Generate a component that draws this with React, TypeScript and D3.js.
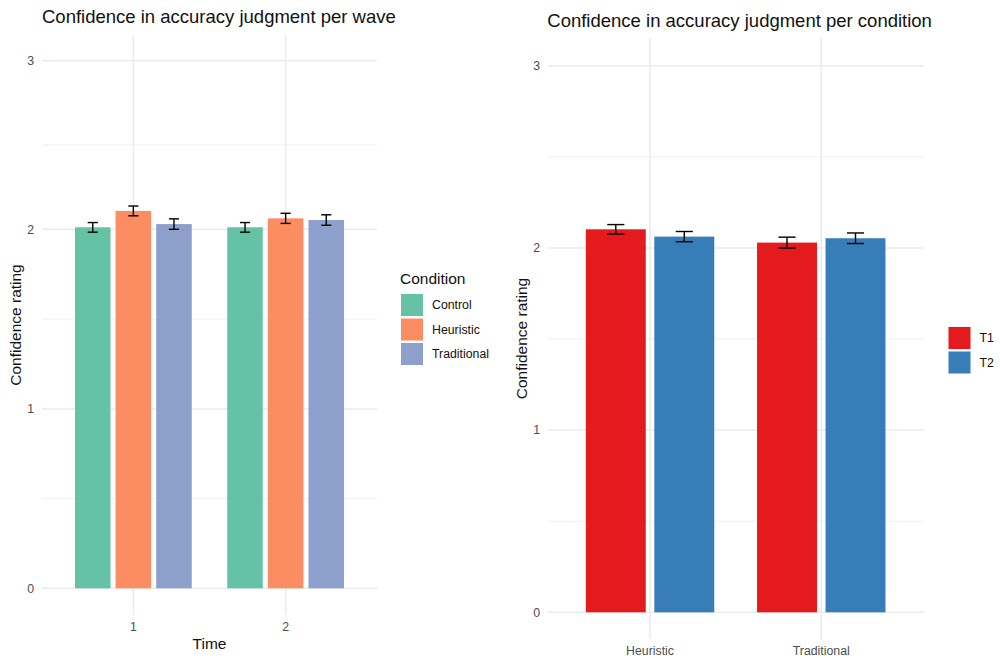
import React from "react";
import * as d3 from "d3";

// ---- Data: left chart (per wave) ----
const times = ["1", "2"];
const conditions = ["Control", "Heuristic", "Traditional"];
const controlMeans = [2.012, 2.012];
const heuristicMeans = [2.109, 2.065];
const traditionalMeans = [2.031, 2.055];
const controlErr = [0.028, 0.028];
const heuristicErr = [0.029, 0.03];
const traditionalErr = [0.031, 0.031];
const conditionColors = ["#66C2A5", "#FC8D62", "#8DA0CB"];

// ---- Data: right chart (per condition) ----
const condCategories = ["Heuristic", "Traditional"];
const waves = ["T1", "T2"];
const t1Means = [2.102, 2.029];
const t2Means = [2.062, 2.053];
const t1Err = [0.026, 0.03];
const t2Err = [0.028, 0.029];
const waveColors = ["#E41A1C", "#377EB8"];

const yTicks = [0, 1, 2, 3];
const yMinor = [0.5, 1.5, 2.5];

const FONT = "'Liberation Sans', Arial, Helvetica, sans-serif";
const GRID = "#ebebeb";
const TICK = "#4d4d4d";

type PanelProps = {
  left: number;
  right: number;
  top: number;
  bottom: number;
  y: (v: number) => number;
  cats: string[];
  groups: string[];
  means: number[][];
  errs: number[][];
  colors: string[];
  title: string;
  titleY: number;
  xTitle?: string;
  tickLabelY: number;
  yTitleX: number;
  legendTitle?: string;
  legendX: number;
  legendY: number;
  yLabelX: number;
};

function Panel(p: PanelProps) {
  const x = d3.scaleLinear().domain([0.4, p.cats.length + 0.6]).range([p.left, p.right]);
  const n = p.groups.length;
  const dodge = 0.8;
  const barW = 0.7 / n;
  const errW = 0.2 / n;
  const y0 = p.y(0);
  const keyW = 22;
  const keyH = 22;
  const step = 24.5;
  return (
    <g>
      {yMinor.map((v) => (
        <line key={"mn" + v} x1={p.left} x2={p.right} y1={p.y(v)} y2={p.y(v)} stroke={GRID} strokeWidth={0.8} />
      ))}
      {yTicks.map((v) => (
        <line key={"mj" + v} x1={p.left} x2={p.right} y1={p.y(v)} y2={p.y(v)} stroke={GRID} strokeWidth={1.5} />
      ))}
      {p.cats.map((c, i) => (
        <line key={"vx" + c} x1={x(i + 1)} x2={x(i + 1)} y1={p.top} y2={p.bottom} stroke={GRID} strokeWidth={1.5} />
      ))}
      {p.cats.map((c, i) =>
        p.groups.map((g, j) => {
          const cx = i + 1 + (j - (n - 1) / 2) * (dodge / n);
          const v = p.means[j][i];
          const x1 = x(cx - barW / 2);
          const x2 = x(cx + barW / 2);
          return (
            <rect key={c + g} x={x1} width={x2 - x1} y={p.y(v)} height={y0 - p.y(v)} fill={p.colors[j]} />
          );
        })
      )}
      {p.cats.map((c, i) =>
        p.groups.map((g, j) => {
          const cx = i + 1 + (j - (n - 1) / 2) * (dodge / n);
          const v = p.means[j][i];
          const e = p.errs[j][i];
          const xa = x(cx - errW / 2);
          const xb = x(cx + errW / 2);
          const xm = x(cx);
          const ya = p.y(v + e);
          const yb = p.y(v - e);
          return (
            <g key={"e" + c + g} stroke="#000" strokeWidth={1.4} fill="none">
              <line x1={xa} x2={xb} y1={ya} y2={ya} />
              <line x1={xa} x2={xb} y1={yb} y2={yb} />
              <line x1={xm} x2={xm} y1={ya} y2={yb} />
            </g>
          );
        })
      )}
      {yTicks.map((v) => (
        <text key={"yl" + v} x={p.yLabelX} y={p.y(v)} dy="0.35em" textAnchor="end" fontSize={12.3} fill={TICK} fontFamily={FONT}>
          {v}
        </text>
      ))}
      {p.cats.map((c, i) => (
        <text key={"xl" + c} x={x(i + 1)} y={p.tickLabelY} dy="0.35em" textAnchor="middle" fontSize={12.3} fill={TICK} fontFamily={FONT}>
          {c}
        </text>
      ))}
      <text x={p.left} y={p.titleY} fontSize={18.5} fill="#111" fontFamily={FONT}>
        {p.title}
      </text>
      {p.xTitle && (
        <text x={(p.left + p.right) / 2} y={644} dy="0.35em" textAnchor="middle" fontSize={15.5} fill="#111" fontFamily={FONT}>
          {p.xTitle}
        </text>
      )}
      <text
        transform={`translate(${p.yTitleX},${(p.top + p.bottom) / 2}) rotate(-90)`}
        textAnchor="middle"
        dy="0.35em"
        fontSize={15.5}
        fill="#111"
        fontFamily={FONT}
      >
        Confidence rating
      </text>
      {p.legendTitle && (
        <text x={p.legendX} y={p.legendY - 15} dy="0.35em" fontSize={15.5} fill="#111" fontFamily={FONT}>
          {p.legendTitle}
        </text>
      )}
      {p.groups.map((g, j) => (
        <g key={"lg" + g}>
          <rect x={p.legendX + 1} y={p.legendY + j * step} width={keyW} height={keyH} fill={p.colors[j]} />
          <text x={p.legendX + 32} y={p.legendY + j * step + keyH / 2} dy="0.35em" fontSize={12.3} fill="#111" fontFamily={FONT}>
            {g}
          </text>
        </g>
      ))}
    </g>
  );
}

export default function App() {
  // left panel y scale (upper range slightly compressed)
  const yLeft = d3.scaleLinear().domain([0, 1, 2, 3]).range([588.3, 409, 229.3, 60.7]);
  const yRight = d3.scaleLinear().domain([0, 3]).range([612.3, 65.7]);
  return (
    <svg width={1000} height={658} style={{ position: "absolute", left: 0, top: 0, background: "#fff" }}>
      <rect width={1000} height={658} fill="#fff" />
      <Panel
        left={42}
        right={377}
        top={35}
        bottom={615}
        y={yLeft}
        cats={times}
        groups={conditions}
        means={[controlMeans, heuristicMeans, traditionalMeans]}
        errs={[controlErr, heuristicErr, traditionalErr]}
        colors={conditionColors}
        title="Confidence in accuracy judgment per wave"
        titleY={23}
        xTitle="Time"
        tickLabelY={627}
        yTitleX={16}
        legendTitle="Condition"
        legendX={400}
        legendY={294}
        yLabelX={34}
      />
      <Panel
        left={547.3}
        right={924}
        top={38}
        bottom={639}
        y={yRight}
        cats={condCategories}
        groups={waves}
        means={[t1Means, t2Means]}
        errs={[t1Err, t2Err]}
        colors={waveColors}
        title="Confidence in accuracy judgment per condition"
        titleY={27}
        tickLabelY={651}
        yTitleX={522}
        legendX={947.5}
        legendY={327}
        yLabelX={540}
      />
    </svg>
  );
}
